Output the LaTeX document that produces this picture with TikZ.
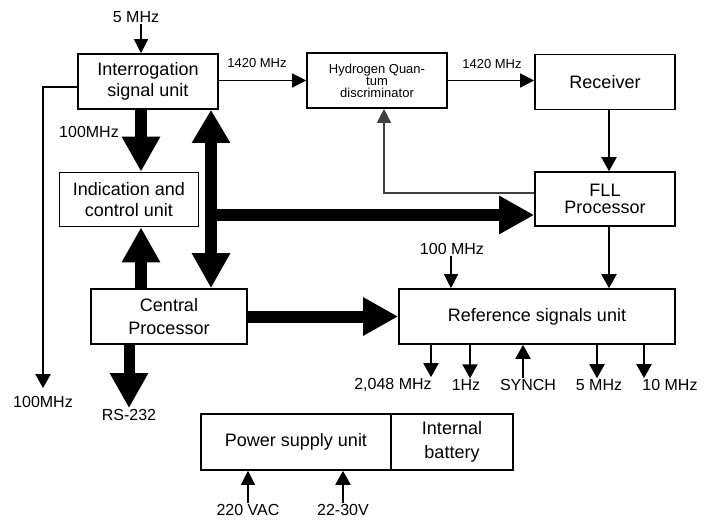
\documentclass[tikz,border=0pt]{standalone}
\usepackage{fontspec}
\setmainfont{Liberation Sans}
\usetikzlibrary{arrows.meta}

\begin{document}
\begin{tikzpicture}[
  x=1pt,y=-1pt,
  box/.style={draw,line width=1.6pt,inner sep=0pt,align=center,font=\fontsize{18}{21}\selectfont},
  bus/.style={line width=12pt,-{Triangle[length=35pt,width=36pt]}},
  busb/.style={line width=12pt,{Triangle[length=33pt,width=36pt]}-{Triangle[length=35pt,width=36pt]}},
  sig/.style={line width=2pt,-{Triangle[length=14pt,width=15pt]}},
  lnk/.style={line width=1.3pt,-{Triangle[length=14pt,width=14pt]}},
  fb/.style={lnk,black!75},
  lab/.style={font=\fontsize{16}{18}\selectfont,inner sep=1pt},
  sml/.style={font=\fontsize{13}{14}\selectfont,inner sep=1pt}
]
  \useasboundingbox (0,0) rectangle (712,520);

  \node[box,minimum width=140pt,minimum height=55pt] (isu) at (148,81.5) {Interrogation\\signal unit};
  \node[box,minimum width=139pt,minimum height=54pt] (icu) at (129,199.5) {Indication and\\control unit};
  \node[box,minimum width=156pt,minimum height=55pt,font=\fontsize{18}{23}\selectfont] (cp) at (169,316.5) {Central\\Processor};
  \node[box,minimum width=140pt,minimum height=55pt,font=\fontsize{13}{12}\selectfont] (hqd) at (377,80.5) {Hydrogen Quan-\\tum\\discriminator};
  \node[box,minimum width=140pt,minimum height=55pt] (rec) at (605,82) {Receiver};
  \node[box,minimum width=140pt,minimum height=54pt,font=\fontsize{18}{17}\selectfont] (fll) at (605,199) {FLL\\Processor};
  \node[box,minimum width=276pt,minimum height=55pt] (rsu) at (537,316.5) {Reference signals unit};
  \node[box,minimum width=190pt,minimum height=56pt] (psu) at (296,442) {Power supply unit};
  \node[box,minimum width=122pt,minimum height=56pt,font=\fontsize{18}{24}\selectfont] (bat) at (452,442) {Internal\\battery};

  \node[lab] (in5) at (136,17) {5 MHz};
  \node[sml] (fa) at (257,63) {1420 MHz};
  \node[sml] (fb) at (492,64) {1420 MHz};
  \node[lab] (l100) at (89,132) {100MHz};
  \node[lab] (o100) at (43,402) {100MHz};
  \node[lab] (rs) at (129,415) {RS-232};
  \node[lab] (r100) at (452,249) {100 MHz};
  \node[lab] (o2048) at (393,385) {2,048 MHz};
  \node[lab] (o1hz) at (466,385) {1Hz};
  \node[lab] (synch) at (528,385) {SYNCH};
  \node[lab] (o5) at (599,385) {5 MHz};
  \node[lab] (o10) at (670,385) {10 MHz};
  \node[lab] (vac) at (248,510) {220 VAC};
  \node[lab] (dc) at (343,510) {22-30V};

  \draw[lnk] (141,0 |- in5.south) -- (141,0 |- isu.north);
  \draw[lnk] (hqd.west -| isu.east) -- (hqd.west);
  \draw[lnk] (hqd.east) -- (hqd.east -| rec.west);
  \draw[sig] (609,0 |- rec.south) -- (609,0 |- fll.north);
  \draw[sig] (609,0 |- fll.south) -- (609,0 |- rsu.north);
  \draw[fb] ([yshift=6pt]fll.west) -| ([xshift=7pt]hqd.south);

  \draw[bus] (141,0 |- isu.south) -- (141,0 |- icu.north);
  \draw[busb] (211,0 |- isu.south) -- (211,0 |- cp.north);
  \coordinate (tap) at (211,215);
  \draw[bus] (tap) -- (tap -| fll.west);
  \draw[bus] (141,0 |- cp.north) -- (141,0 |- icu.south);
  \draw[bus] (cp.east) -- (cp.east -| rsu.west);
  \draw[bus,line width=11pt] (129,0 |- cp.south) -- (129,0 |- rs.north);

  \draw[sig] (isu.west |- 0,87) -| ([yshift=7pt]o100.north);
  \draw[lnk] (r100.south -| 451,0) -- (451,0 |- rsu.north);
  \foreach \x/\n in {431/o2048,470/o1hz,597/o5,644/o10}
    \draw[sig] (\x,0 |- rsu.south) -- (\x,0 |- \n.north);
  \draw[sig] (523,0 |- synch.north) -- (523,0 |- rsu.south);
  \draw[lnk] (vac.north) -- (vac.north |- psu.south);
  \draw[sig] (dc.north) -- (dc.north |- psu.south);
\end{tikzpicture}
\end{document}
